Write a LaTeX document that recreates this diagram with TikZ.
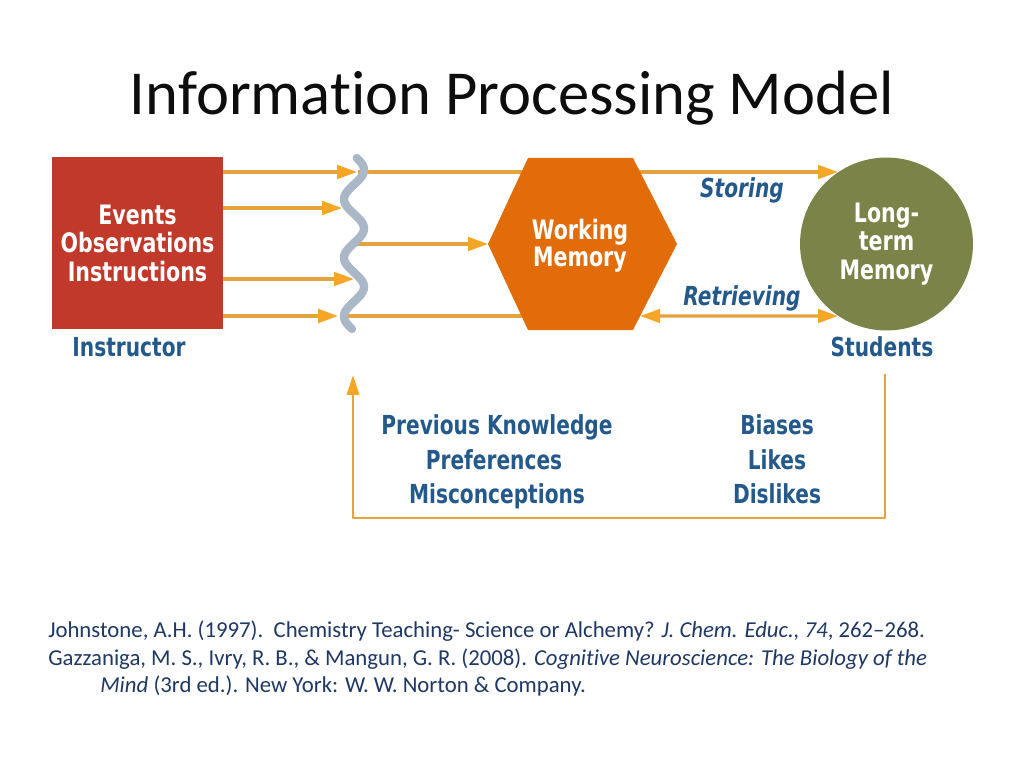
\documentclass[tikz,border=0pt]{standalone}
\usepackage{fontspec}
\setmainfont{Carlito}[Ligatures=NoCommon]
\newfontfamily\diag{DejaVu Sans}[FakeStretch=0.77]
\usetikzlibrary{arrows.meta,calc}
\definecolor{boxred}{HTML}{C1392B}
\definecolor{hexorange}{HTML}{E36C0A}
\definecolor{ltmgreen}{HTML}{7B8348}
\definecolor{txtblue}{HTML}{23598B}
\definecolor{arrline}{HTML}{E6A23C}
\definecolor{arrhead}{HTML}{F5A626}
\definecolor{wavec}{HTML}{A9B7C7}
\definecolor{refc}{HTML}{1F3864}
\definecolor{titlec}{HTML}{0D0D0D}
\begin{document}
\begin{tikzpicture}[x=0.703125pt,y=-0.703125pt,
  conn/.style={draw=arrline, line width=2.3pt},
  arr/.style={conn, -{Triangle[length=14pt,width=9.5pt,color=arrhead]}},
  darr/.style={conn, {Triangle[length=14pt,width=9.5pt,color=arrhead]}-{Triangle[length=14pt,width=9.5pt,color=arrhead]}},
  fbarr/.style={draw=arrline, line width=2pt, line join=round, -{Triangle[length=14pt,width=8.5pt,color=arrhead]}},
  wave/.style={draw=wavec, line width=5.9pt, line cap=round},
  lbl/.style={font=\diag\bfseries\fontsize{18.4}{20}\selectfont, text=txtblue, align=center},
  ilbl/.style={font=\diag\bfseries\itshape\fontsize{18.4}{20}\selectfont, text=txtblue},
  wlbl/.style={font=\diag\bfseries\fontsize{18.8}{20}\selectfont, text=white, align=center},
  reftxt/.style={font=\fontsize{16}{19}\selectfont, text=refc, inner sep=0pt},
]
\fill[white] (0,0) rectangle (1024,768);
\useasboundingbox (0,0) rectangle (1024,768);

% title
\node[anchor=base, font=\fontsize{44}{52}\selectfont, text=titlec, inner sep=0pt] (title) at (512,115) {Information Processing Model};

% wave points
\coordinate (w1) at (357,172);
\coordinate (w2) at (342,208);
\coordinate (w3) at (354,279);
\coordinate (w4) at (338,316);
\coordinate (w1r) at (358,172);
\coordinate (wmid) at (354,244);
\coordinate (w4r) at (346,316);

% hexagon corners
\coordinate (hl) at (488,244);
\coordinate (htl) at (528,158);
\coordinate (htr) at (633,158);
\coordinate (hr) at (677,244);
\coordinate (hbr) at (633,330);
\coordinate (hbl) at (528,330);

% source box
\node[fill=boxred, minimum width=120.2pt, minimum height=120.9pt, inner sep=0pt, wlbl] (src) at (137.5,243) {Events\\Observations\\Instructions};

% long-term memory circle position (drawn later on top)
\path (886.5,244) node[circle, minimum size=121.6pt, inner sep=0pt] (ltmpos) {};

% arrows from source to wave
\draw[arr] (src.east |- w1) -- (w1);
\draw[arr] (src.east |- w2) -- (w2);
\draw[arr] (src.east |- w3) -- (w3);
\draw[arr] (src.east |- w4) -- (w4);

% through-lines
\draw[arr] (w1r) -- (ltmpos.124 |- w1r);
\draw[conn] (w4r) -- ($(hbl)!0.5!(hbr) + (0,-14)$);
\draw[arr] (wmid) -- (hl);
\draw[darr] ($(hr)!0.837!(hbr)$) -- (ltmpos.236 |- w4r);

% wave
\draw[wave] plot[domain=158:329, samples=120, smooth, variable=\t] ({354+10*cos((\t-170)/58.5*360)}, {\t});

% hexagon
\fill[hexorange] (hl) -- (htl) -- (htr) -- (hr) -- (hbr) -- (hbl) -- cycle;
\node[wlbl, font=\diag\bfseries\fontsize{18.8}{19.3}\selectfont] (wm) at (580,246) {Working\\Memory};

% circle
\node[circle, fill=ltmgreen, minimum size=121.6pt, inner sep=0pt, wlbl, font=\diag\bfseries\fontsize{18.8}{20.2}\selectfont] (ltm) at (886.5,244) {Long-\\term\\Memory};

% labels
\node[lbl, anchor=base] (instr) at (129,356) {Instructor};
\node[lbl, anchor=base] (stud) at (882,356) {Students};
\node[ilbl, anchor=base] (stor) at (742,198) {Storing};
\node[ilbl, anchor=base] (retr) at (742,306) {Retrieving};

\node[lbl, anchor=base] (pk) at (497,434) {Previous Knowledge};
\node[lbl, anchor=base] (pref) at (494,469) {Preferences};
\node[lbl, anchor=base] (misc) at (497,503) {Misconceptions};
\node[lbl, anchor=base] (bias) at (777,434) {Biases};
\node[lbl, anchor=base] (likes) at (777,469) {Likes};
\node[lbl, anchor=base] (dis) at (777,503) {Dislikes};

% feedback loop
\coordinate (fbs) at (885,374);
\coordinate (fbc) at (353,518);
\coordinate (fbe) at (353,375);
\draw[fbarr] (fbs) |- (fbc) -- (fbe);

% references
\node[reftxt, anchor=base west] (ref1) at (48,637) {Johnstone, A.H. (1997).\ \ Chemistry Teaching- Science or Alchemy? \textit{J. Chem. Educ., 74}, 262–268.};
\node[reftxt, anchor=base west] (ref2) at (48,665) {Gazzaniga, M. S., Ivry, R. B., \& Mangun, G. R. (2008). \textit{Cognitive Neuroscience: The Biology of the}};
\node[reftxt, anchor=base west] (ref3) at (100,692) {\textit{Mind} (3rd ed.). New York: W. W. Norton \& Company.};
\end{tikzpicture}
\end{document}
